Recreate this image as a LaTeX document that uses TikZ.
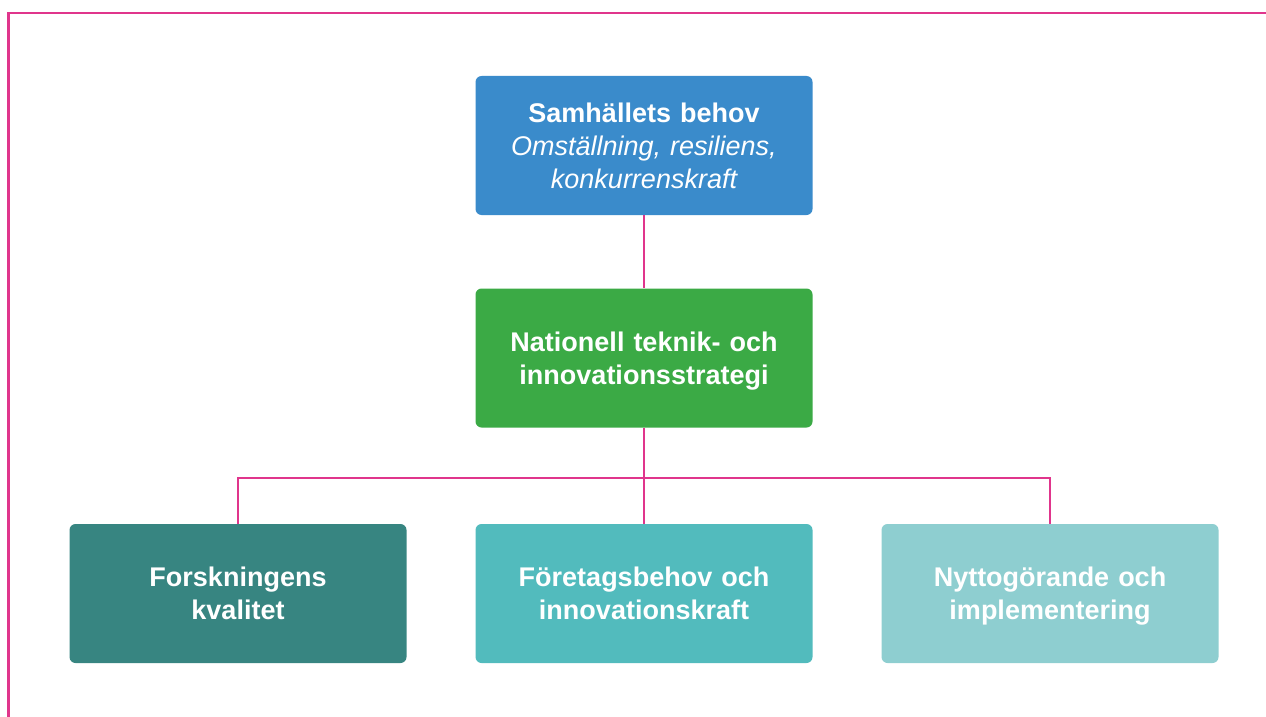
\documentclass[tikz,border=0pt]{standalone}
\usepackage{fontspec}
\setmainfont{Liberation Sans}
\definecolor{pinkline}{HTML}{E0358C}
\definecolor{cblue}{HTML}{3A8BCB}
\definecolor{cgreen}{HTML}{3BAA45}
\definecolor{cdark}{HTML}{378581}
\definecolor{cmid}{HTML}{52BBBD}
\definecolor{clight}{HTML}{8ECED0}
\newcommand\boxstrut{\rule[-7pt]{0pt}{33pt}}
\begin{document}
\begin{tikzpicture}[x=1pt,y=-1pt,
  box/.style={rounded corners=6pt, minimum width=337pt, minimum height=139pt,
    text width=330pt, align=center, text=white, inner sep=0pt,
    font=\fontsize{27}{33}\selectfont\bfseries},
  conn/.style={draw=pinkline, line width=2.5pt}]
\useasboundingbox (0,0) rectangle (1266,717);
\draw[pinkline, line width=2.6pt] (8.5,717) -- (8.5,13) -- (1266,13);
\node[box, fill=cblue] (top) at (644,145.5) {\boxstrut Samhällets behov\\{\mdseries\itshape Omställning, resiliens,\\konkurrenskraft\boxstrut}};
\node[box, fill=cgreen] (mid) at (644,358) {\boxstrut Nationell teknik- och\\innovationsstrategi\boxstrut};
\node[box, fill=cdark] (bl) at (238,593.5) {\boxstrut Forskningens\\kvalitet\boxstrut};
\node[box, fill=cmid] (bm) at (644,593.5) {\boxstrut Företagsbehov och\\innovationskraft\boxstrut};
\node[box, fill=clight] (br) at (1050,593.5) {\boxstrut Nyttogörande och\\implementering\boxstrut};
\coordinate (bus) at (644,478);
\draw[conn] (top.south) -- (mid.north);
\draw[conn] (mid.south) -- (bm.north);
\draw[conn] (bl.north) |- (bus) -| (br.north);
\end{tikzpicture}
\end{document}
